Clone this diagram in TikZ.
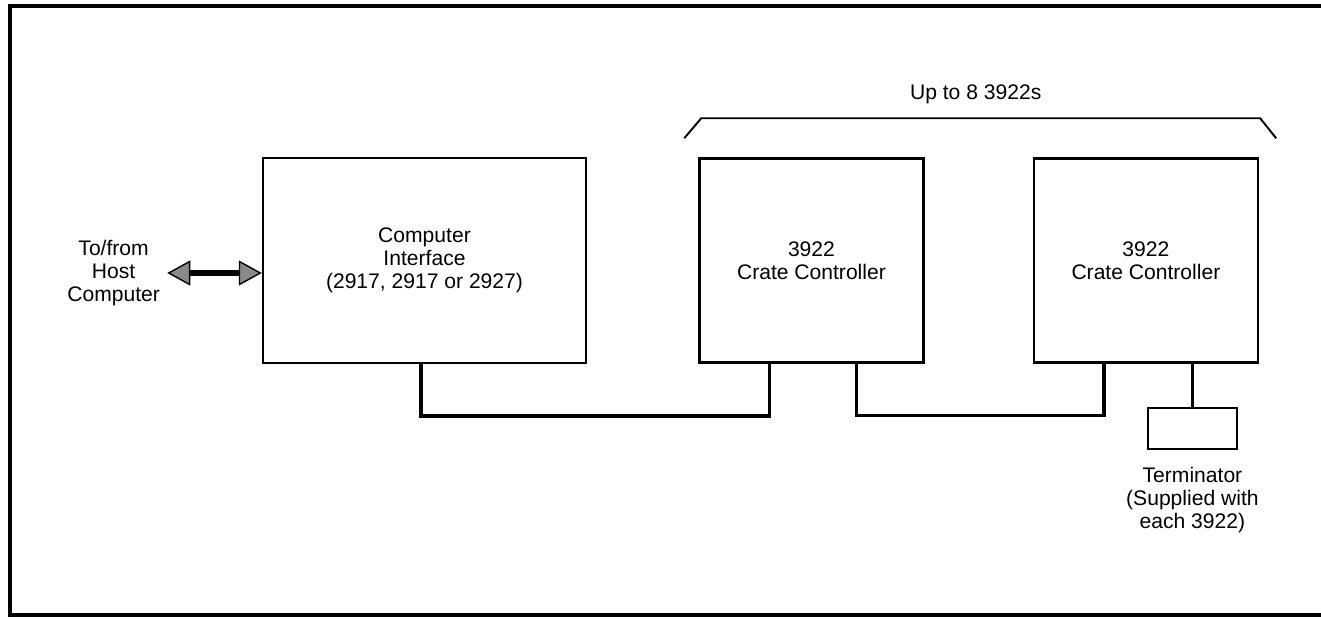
\documentclass[tikz,border=0pt]{standalone}
\usepackage{fontspec}
\setmainfont{Liberation Sans}
\usetikzlibrary{arrows.meta,positioning,calc}
\definecolor{CamacGray}{HTML}{8A8A8A}
\tikzset{
  frame/.style={line width=2.8pt, draw=black},
  unit/.style={draw=black, line width=1.4pt, minimum width=4.48cm, minimum height=4.08cm,
               align=center, inner sep=3pt},
  iface/.style={unit, minimum width=6.46cm, minimum height=4.10cm},
  termbox/.style={draw=black, line width=1.3pt, minimum width=1.78cm, minimum height=0.82cm},
  bus/.style={line width=2pt, draw=black},
  hostlink/.style={{Triangle[length=0.46cm,width=0.5cm,fill=CamacGray,line width=0.8pt]}-{Triangle[length=0.46cm,width=0.5cm,fill=CamacGray,line width=0.8pt]},
                   line width=3.2pt, draw=black},
  span/.style={line width=1.1pt, draw=black},
  caption/.style={align=center, inner sep=4pt},
}

\begin{document}
\begin{tikzpicture}[node distance=2.2cm,font=\fontsize{12}{13}\selectfont]
    \useasboundingbox (0,0) rectangle (26.42,12.38);
    \draw[frame] (26.6,12.26) -- (0.2,12.26) -- (0.2,0.08) -- (26.6,0.08);
    % boxes
    \node[iface] (ci) at (8.49,7.17) {Computer\\Interface\\(2917, 2917 or 2927)};
    \node[unit,right=2.22cm of ci] (cc1) {3922\\Crate Controller};
    \node[unit,right=2.16cm of cc1] (cc2) {3922\\Crate Controller};
    \node[termbox,anchor=north] (term) at ([xshift=0.93cm,yshift=-0.86cm]cc2.south) {};
    % labels
    \node[caption,left=1.89cm of ci,yshift=-0.25cm] (host) {To/from\\Host\\Computer};
    \node[caption,below=2mm of term] (termnote) {Terminator\\(Supplied with\\each 3922)};
    \coordinate (spanL) at ([xshift=0.06cm,yshift=0.78cm]cc1.north west);
    \coordinate (spanR) at ([xshift=0.02cm,yshift=0.78cm]cc2.north east);
    \coordinate (spanmid) at ($(spanL)!0.5!(spanR)$);
    \node[caption,above=1.5mm of spanmid,xshift=-0.1cm] (spannote) {Up to 8 3922s};
    % links
    \draw[hostlink] (host.east) -- (host.east -| ci.west);
    \draw[bus] ([xshift=-0.07cm]ci.south) -- ++(0,-1.04) -| ([xshift=-0.84cm]cc1.south);
    \draw[bus] ([xshift=0.90cm]cc1.south) -- ++(0,-1.04) -| ([xshift=-0.84cm]cc2.south);
    \draw[bus] (term.north) -- (term.north |- cc2.south);
    \draw[span] ([xshift=-0.34cm,yshift=-0.4cm]spanL) -- (spanL) -- (spanR) -- ([xshift=0.32cm,yshift=-0.4cm]spanR);
  \end{tikzpicture}
\end{document}
